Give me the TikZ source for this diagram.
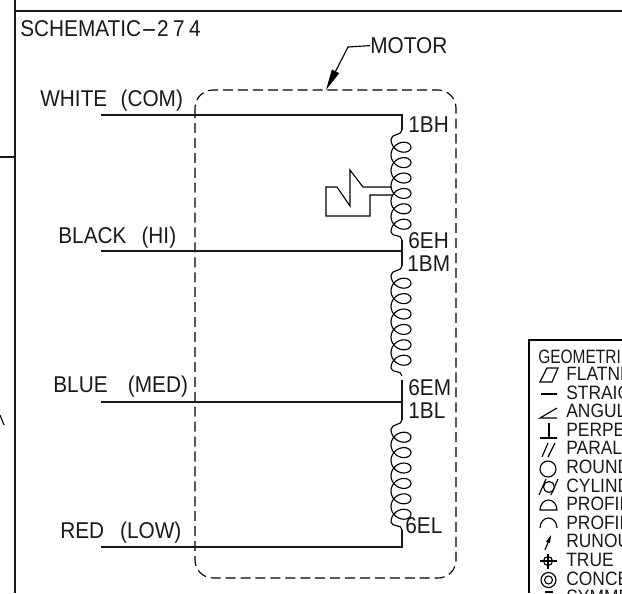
\documentclass[tikz,border=0pt]{standalone}
\usepackage{graphicx}
\usepackage{fontspec}
\setmainfont{Liberation Sans}[FakeStretch=0.91]
\newfontfamily\listfont{Liberation Sans}[FakeStretch=0.8]
\newfontfamily\rowfont{Liberation Sans}[FakeStretch=0.9]
\usetikzlibrary{arrows.meta}
\tikzset{
	wire/.style={line width=0.85pt, color=black!90},
	thin line/.style={line width=0.65pt, color=black},
	cased/.style={inner sep=0, anchor=base west, font=\fontsize{13}{14}\selectfont, color=black!90},
	listed/.style={inner sep=0, anchor=base west, font=\listfont\fontsize{11}{12}\selectfont, color=black!90},
	rowed/.style={inner sep=0, anchor=base west, font=\rowfont\fontsize{11}{12}\selectfont, color=black!90}
}
% one winding block, #1 is the height where the first turn starts
\def\coilblock(#1){\draw[thin line, shift={(0,#1)}] (402,-9.5) .. controls (402,-4) and (391,-6) .. (391,0) -- plot[variable=\t, domain=-180:1980, samples=145] ({401+10*cos(\t)},{0.04278*(\t+180)-8.5*sin(\t)}) .. controls (391,98) and (402,94) .. (402,100.5);}

\begin{document}
\begin{tikzpicture}[x=0.02cm, y=-0.02cm]
	%%%%% START %%%%%
	\useasboundingbox (0, 0) rectangle (622, 593);
	\clip (0, 0) rectangle (622, 593);
	
	\draw[wire] (15, 0) -- (15, 593);
	\draw[wire] (15, 11) -- (622, 11);
	\draw[wire] (0, 157) -- (15, 157);
	\draw[thin line] (0, 415) -- (4, 425);
	
	\node[cased] (schematic) at (20, 36) {SCHEMATIC\scalebox{2.3}[1]{-}2\kern2.5pt 7\kern2.5pt 4};
	\node[cased] (motor) at (370, 53.5) {MOTOR};
	
	\draw[thin line, dash pattern=on 5.7pt off 2.8pt, rounded corners=0.36cm] (195, 90) rectangle (456, 578);
	\coordinate (boxtop) at (326, 90);
	\draw[thin line, -{Triangle[length=0.42cm, width=0.16cm]}] (motor.west) -- (348, 47) -- (boxtop);
	
	\coordinate (white) at (101, 115);
	\coordinate (black) at (101, 251);
	\coordinate (blue) at (101, 402);
	\coordinate (red) at (101, 547);
	\coordinate (tapwhite) at (402, 115);
	\coordinate (tapblack) at (402, 251);
	\coordinate (tapblue) at (402, 402);
	\coordinate (tapred) at (402, 547);
	
	\draw[wire] (white) -- (tapwhite) -- (402, 130);
	\draw[wire] (black) -- (tapblack);
	\draw[wire] (402, 240) -- (402, 266);
	\draw[wire] (blue) -- (tapblue);
	\draw[wire] (402, 380) -- (402, 420);
	\draw[wire] (red) -- (tapred) -- (402, 530);
	
	\node[cased] (whitename) at (40, 106.5) {WHITE\ \ \kern1pt(COM)};
	\node[cased] (blackname) at (58, 243) {BLACK\ \ \kern2pt(HI)};
	\node[cased] (bluename) at (53, 392) {BLUE\ \ \kern5pt(MED)};
	\node[cased] (redname) at (60, 538) {RED\ \ \kern2.5pt(LOW)};
	
	\coilblock(139.5)
	\coilblock(275.5)
	\coilblock(429.5)
	
	\node[cased] (bh) at (408, 132) {1BH};
	\node[cased] (eh) at (408, 248) {6EH};
	\node[cased] (bm) at (407, 271) {1BM};
	\node[cased] (em) at (408, 395) {6EM};
	\node[cased] (bl) at (408, 418) {1BL};
	\node[cased] (el) at (405, 533) {6EL};
	
	\draw[thin line] (391, 187) -- (363, 187) -- (350, 170) -- (350, 206) -- (337, 187) -- (326, 187) -- (326, 216) -- (370, 216) -- (370, 195) -- (392, 195);
	
	\draw[thin line] (529, 593) -- (529, 340) -- (622, 340);
	\node[listed] (geometric) at (538, 363) {GEOMETRI};
	\foreach \row/\word in {0/FLATNE, 1/STRAIG, 2/ANGUL, 3/PERPE, 4/PARAL, 5/ROUND, 6/CYLIND, 7/PROFIL, 8/PROFIL, 9/RUNOU, 10/TRUE, 11/CONCE, 12/SYMME}
		\node[rowed] at (566, {380.5+18.6*\row}) {\word};
	
	\draw[thin line] (540, 382) -- (547, 368) -- (558, 368) -- (552, 382) -- cycle;
	\draw[thin line] (541, 394) -- (557, 394);
	\draw[thin line] (557, 408) -- (540, 418) -- (557, 418);
	\draw[thin line] (540, 438) -- (557, 438);
	\draw[thin line] (549, 423) -- (549, 438);
	\draw[thin line] (542, 457) -- (548, 443);
	\draw[thin line] (548, 457) -- (555, 443);
	\draw[thin line] (548, 469) circle (8);
	\draw[thin line] (549, 487) circle (5.5);
	\draw[thin line] (539, 495) -- (546, 479);
	\draw[thin line] (551, 495) -- (558, 479);
	\draw[thin line] (540, 510) arc (180:0:8.5 and -10) -- cycle;
	\draw[thin line] (540, 528) arc (180:0:8.5 and -10);
	\draw[thin line, -{Triangle[length=0.16cm, width=0.08cm]}] (545, 550) -- (551, 535);
	\draw[thin line] (548, 561) circle (4.5);
	\draw[thin line] (540, 561) -- (557, 561);
	\draw[thin line] (548, 554) -- (548, 569);
	\draw[thin line] (548.5, 580) circle (7.5);
	\draw[thin line] (548.5, 580) circle (4);
	\draw[thin line] (545, 592) -- (553, 592);
	%%%%% END %%%%%
\end{tikzpicture}
\end{document}
